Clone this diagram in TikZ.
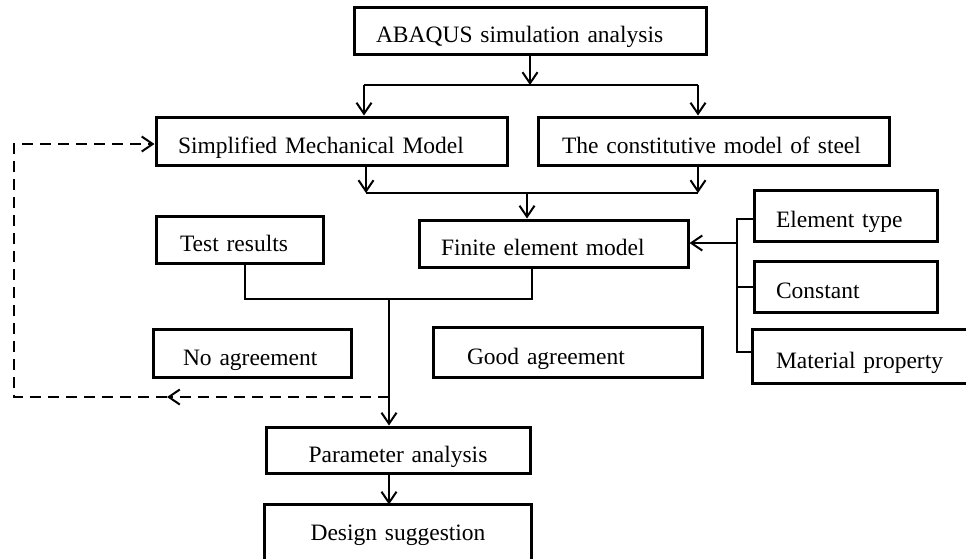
\documentclass[tikz,border=0pt]{standalone}
\usepackage{fontspec}
\setmainfont{Liberation Serif}
\usetikzlibrary{arrows.meta}

\tikzset{
  blk/.style={draw, line width=3pt, align=left, inner xsep=22pt, inner ysep=0pt,
    text height=24pt, text depth=0pt, font=\fontsize{23.5}{27}\selectfont},
  open/.style={blk, draw=none},
  edge/.style={line width=3pt},
  ln/.style={line width=2pt},
  arr/.style={line width=2pt, -{Straight Barb[length=11pt,width=15pt,line width=2pt]}},
  fbk/.style={arr, line width=2.5pt, dash pattern=on 11pt off 7pt},
}

\begin{document}
\begin{tikzpicture}[x=1pt, y=-1pt]
  \useasboundingbox (0,0) rectangle (966,558);
  \clip (0,0) rectangle (966,558);
  % Boxes
  \node[blk, text width=308pt, minimum height=47pt] (abaqus) at (530,30.5) {ABAQUS simulation analysis};
  \node[blk, text width=307pt, minimum height=48pt] (simp) at (331.5,141) {Simplified Mechanical Model};
  \node[blk, inner xsep=24pt, text width=303pt, minimum height=48pt] (const) at (713.5,141) {The constitutive model of steel};
  \node[blk, text width=225pt, minimum height=47pt] (fem) at (553.5,243.5) {Finite element model};
  \node[blk, inner xsep=24pt, text width=119pt, minimum height=47pt] (test) at (239.5,239.5) {Test results};
  \node[blk, inner xsep=30pt, text width=138pt, minimum height=48pt] (noagr) at (252,353) {No agreement};
  \node[blk, inner xsep=34pt, text width=201pt, minimum height=50pt] (goodagr) at (567.5,352) {Good agreement};
  \node[blk, align=center, text width=220pt, minimum height=46pt] (param) at (398,450) {Parameter analysis};
  \node[open, align=center, text width=220pt, minimum height=100pt, text height=26pt, text depth=58pt] (design) at (398,556) {Design suggestion};
  \node[blk, text width=139pt, minimum height=51pt] (elem) at (845.5,215.5) {Element type};
  \node[blk, text width=139pt, minimum height=51pt] (constant) at (845.5,286.5) {Constant};
  \node[open, text width=300pt, minimum height=51pt] (matprop) at (926,356.5) {Material property};
  % Boxes cut by the page edge
  \draw[edge] (design.south west) -- (design.north west) -- (design.north east) -- (design.south east);
  \draw[edge] (matprop.north east) -- (matprop.north west) -- (matprop.south west) -- (matprop.south east);
  % Split below the top box
  \coordinate (spc) at (530,85);
  \coordinate (spl) at (364,85);
  \coordinate (spr) at (698,85);
  \draw[arr] (abaqus.south) -- (spc);
  \draw[ln] (spl) -- (spr);
  \draw[arr] (spl) -- (spl |- simp.north);
  \draw[arr] (spr) -- (spr |- const.north);
  % Merge into the finite element model
  \coordinate (mgl) at (366,193);
  \coordinate (mgr) at (698,193);
  \coordinate (mgc) at (527,193);
  \draw[arr] (mgl |- simp.south) -- (mgl);
  \draw[arr] (mgr |- const.south) -- (mgr);
  \draw[ln] (mgl) -- (mgr);
  \draw[arr] (mgc) -- (mgc |- fem.north);
  % Inputs of the model
  \coordinate (bt) at (737,219);
  \coordinate (bb) at (737,352);
  \coordinate (ba) at (737,243);
  \draw[ln] (elem.west |- bt) -- (bt) -- (bb) -- (bb -| matprop.west);
  \draw[ln] (bt |- constant.west) -- (constant.west);
  \draw[arr] (ba) -- (ba -| fem.east);
  % Comparison
  \coordinate (jl) at (245,299);
  \coordinate (jr) at (532,299);
  \coordinate (jc) at (389,299);
  \draw[ln] (jl |- test.south) -- (jl) -- (jr) -- (jr |- fem.south);
  \draw[arr] (jc) -- (jc |- param.north);
  \draw[arr] (jc |- param.south) -- (jc |- design.north);
  % Feedback loop
  \coordinate (fa) at (389,397);
  \coordinate (fm) at (167,397);
  \coordinate (fc) at (14,397);
  \coordinate (fd) at (14,144);
  \draw[fbk] (fa) -- (fm);
  \draw[fbk] (fm) -- (fc) -- (fd) -- (fd -| simp.west);
\end{tikzpicture}
\end{document}
